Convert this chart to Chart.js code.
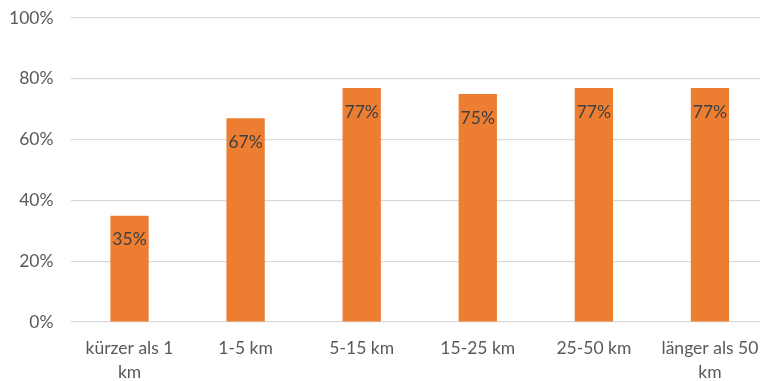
<!DOCTYPE html>
<html>
<head>
<meta charset="utf-8">
<script src="https://cdn.jsdelivr.net/npm/chart.js@4/dist/chart.umd.min.js"></script>
<style>
  html, body { margin: 0; padding: 0; background: #fff; overflow: hidden; }
  #wrap { width: 768px; height: 381px; position: relative; }
</style>
</head>
<body>
<div id="wrap"><canvas id="c"></canvas></div>
<script>
// Share of trips by distance band
const categories = [
  ['kürzer als 1', 'km'],
  '1-5 km',
  '5-15 km',
  '15-25 km',
  '25-50 km',
  ['länger als 50', 'km']
];
const shares = [35, 67, 77, 75, 77, 77];
const yTicks = [0, 20, 40, 60, 80, 100];

const FONT = 'Lato, "Open Sans", sans-serif';
const FONT_SIZE = 17.5;

// Writes each bar's value just inside its top edge
const valueLabels = {
  id: 'valueLabels',
  afterDatasetsDraw(chart) {
    const ctx = chart.ctx;
    const meta = chart.getDatasetMeta(0);
    ctx.save();
    ctx.font = FONT_SIZE + 'px ' + FONT;
    ctx.fillStyle = '#404040';
    ctx.textAlign = 'center';
    ctx.textBaseline = 'middle';
    meta.data.forEach((bar, i) => {
      ctx.fillText(shares[i] + '%', bar.x, bar.y + 24);
    });
    ctx.restore();
  }
};

new Chart(document.getElementById('c'), {
  type: 'bar',
  data: {
    labels: categories,
    datasets: [{
      data: shares,
      backgroundColor: '#ED7D31',
      borderWidth: 0,
      categoryPercentage: 1,
      barPercentage: 0.33
    }]
  },
  options: {
    responsive: true,
    maintainAspectRatio: false,
    animation: false,
    layout: { padding: { left: -9, top: 0, right: 0, bottom: -17 } },
    plugins: { legend: { display: false }, tooltip: { enabled: false } },
    scales: {
      x: {
        grid: { display: false, drawTicks: false },
        border: { display: false },
        afterFit(axis) { axis.paddingLeft = 0; axis.paddingRight = 0; },
        ticks: {
          color: '#595959',
          font: { family: FONT, size: FONT_SIZE, lineHeight: 1.37 },
          padding: 14,
          maxRotation: 0,
          autoSkip: false
        }
      },
      y: {
        min: 0,
        max: 100,
        afterBuildTicks(axis) { axis.ticks = yTicks.map(v => ({ value: v })); },
        afterFit(axis) { axis.paddingTop = 18; axis.paddingBottom = 0; },
        grid: { color: '#d9d9d9', lineWidth: 1.3, drawTicks: false },
        border: { display: false },
        ticks: {
          color: '#595959',
          font: { family: FONT, size: FONT_SIZE },
          padding: 18,
          callback: v => v + '%'
        }
      }
    }
  },
  plugins: [valueLabels]
});
</script>
</body>
</html>
